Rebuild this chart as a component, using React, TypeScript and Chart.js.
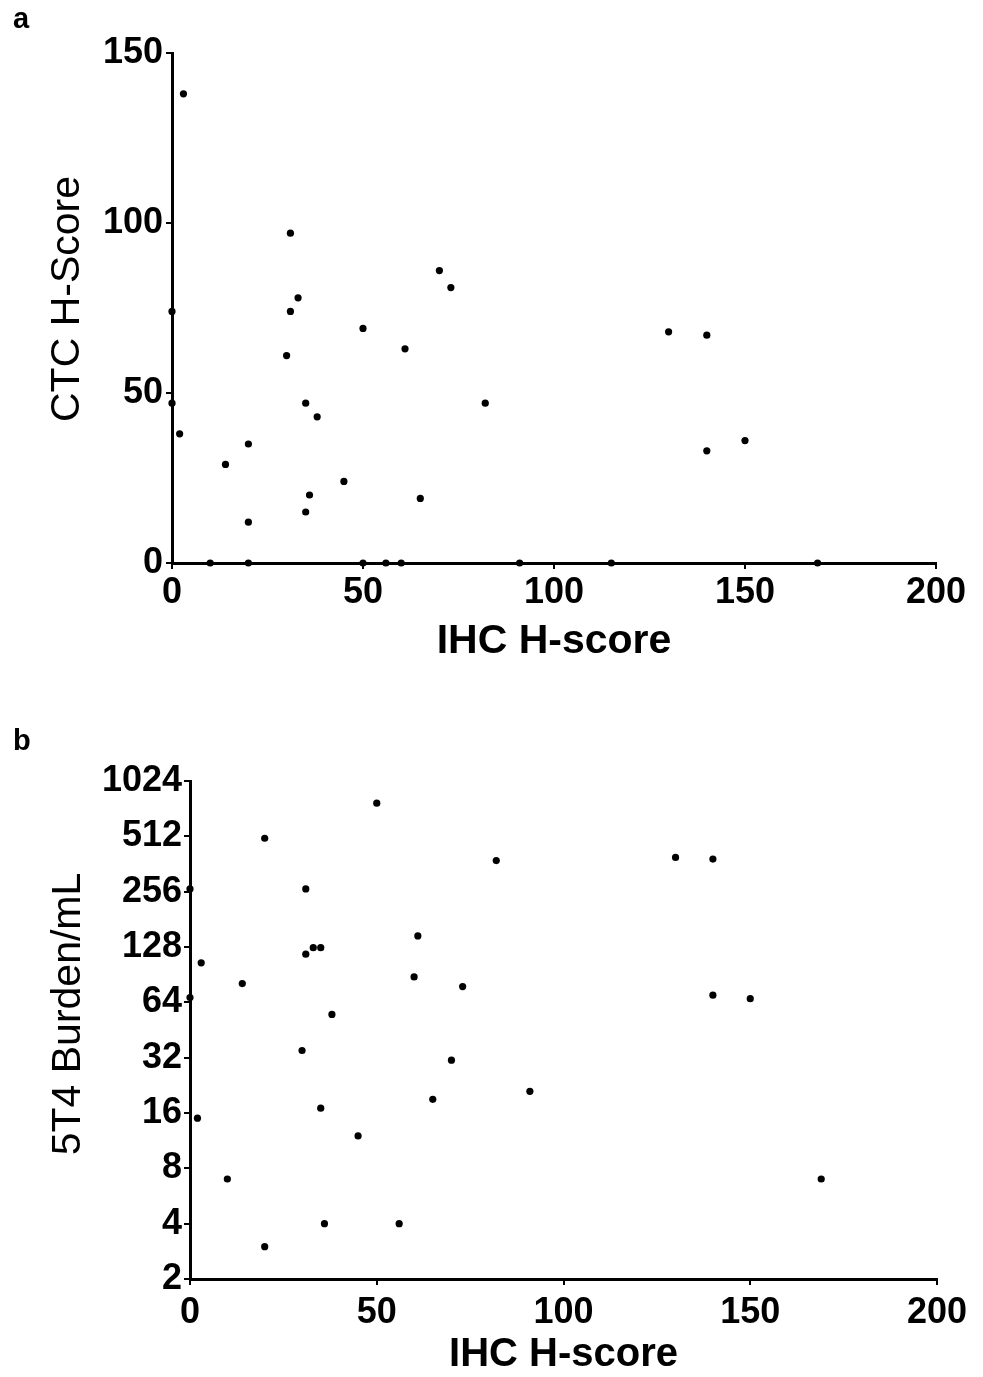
import React, { useEffect, useRef } from "react";
import { Chart, registerables } from "chart.js";

Chart.register(...registerables);

const FONT = '"Liberation Sans", Arial, Helvetica, sans-serif';

// Panel a: IHC H-score vs CTC H-Score
const xA = [3, 31, 70, 73, 33, 31, 0, 50, 30, 61, 0, 35, 38, 82, 2, 20, 14, 45, 36, 65, 35, 20, 130, 140, 140, 150, 10, 20, 50, 56, 60, 91, 115, 169];
const yA = [138, 97, 86, 81, 78, 74, 74, 69, 61, 63, 47, 47, 43, 47, 38, 35, 29, 24, 20, 19, 15, 12, 68, 67, 33, 36, 0, 0, 0, 0, 0, 0, 0, 0];

// Panel b: IHC H-score vs 5T4 Burden/mL
const xB = [50, 20, 82, 0, 31, 61, 33, 35, 31, 3, 60, 14, 73, 0, 38, 30, 70, 65, 35, 2, 45, 10, 36, 56, 20, 130, 140, 91, 140, 150, 169];
const yB = [776, 500, 378, 265, 265, 147, 127, 127, 117, 105, 88, 81, 78, 68, 55, 35, 31, 19, 17, 15, 12, 7, 4, 4, 3, 393, 385, 21, 70, 67, 7];

const xTicks = [0, 50, 100, 150, 200];
const yTicksA = [0, 50, 100, 150];
const yTicksB = [2, 4, 8, 16, 32, 64, 128, 256, 512, 1024];

const annotate = {
  id: "annotate",
  afterDraw(chart: any, _args: any, opts: any) {
    const ctx = chart.ctx;
    ctx.save();
    ctx.fillStyle = "#000";
    if (opts.panel) {
      ctx.font = `bold 29px ${FONT}`;
      ctx.textAlign = "left";
      ctx.textBaseline = "alphabetic";
      ctx.fillText(opts.panel.text, opts.panel.x, opts.panel.y);
    }
    if (opts.yTitle) {
      ctx.translate(opts.yTitle.x, opts.yTitle.y);
      ctx.rotate(-Math.PI / 2);
      ctx.font = `41px ${FONT}`;
      ctx.textAlign = "center";
      ctx.textBaseline = "middle";
      ctx.fillText(opts.yTitle.text, 0, 0);
    }
    ctx.restore();
  },
};

function makeConfig(p: any) {
  const tickFont = { family: FONT, size: 36, weight: "bold" as const };
  return {
    type: "scatter" as const,
    data: {
      datasets: [
        {
          data: p.xs.map((x: number, i: number) => ({ x, y: p.ys[i] })),
          backgroundColor: "#000",
          borderColor: "#000",
          borderWidth: 0,
          pointRadius: 3.6,
          pointHoverRadius: 3.6,
          clip: false as any,
        },
      ],
    },
    options: {
      animation: false as const,
      responsive: false,
      devicePixelRatio: 1,
      layout: { padding: p.padding },
      plugins: {
        legend: { display: false },
        tooltip: { enabled: false },
        annotate: { panel: p.panel, yTitle: p.yTitle },
      },
      scales: {
        x: {
          type: "linear" as const,
          min: 0,
          max: 200,
          afterBuildTicks: (s: any) => {
            s.ticks = xTicks.map((v) => ({ value: v }));
          },
          afterFit: (s: any) => {
            s.height = p.xHeight;
          },
          border: { display: true, color: "#000", width: 3 },
          grid: { display: true, drawOnChartArea: false, drawTicks: true, tickLength: 6, color: "#000", lineWidth: 2 },
          ticks: { color: "#000", font: tickFont, padding: p.xTickPad, maxRotation: 0, autoSkip: false, callback: (v: any) => String(v) },
          title: {
            display: true,
            text: "IHC H-score",
            color: "#000",
            font: { family: FONT, size: p.xTitleSize, weight: "bold" as const, lineHeight: 1 },
            padding: { top: 0, bottom: p.xTitlePad },
          },
        },
        y: p.yScale,
      },
    },
    plugins: [annotate],
  };
}

function ScatterPanel(props: { cfg: any; width: number; height: number; top: number }) {
  const ref = useRef<HTMLCanvasElement | null>(null);
  useEffect(() => {
    if (!ref.current) return;
    const chart = new Chart(ref.current, props.cfg);
    return () => chart.destroy();
  }, []);
  return (
    <canvas
      ref={ref}
      width={props.width}
      height={props.height}
      style={{ position: "absolute", left: 0, top: props.top, width: props.width, height: props.height, display: "block" }}
    />
  );
}

export default function App() {
  const tickFont = { family: FONT, size: 36, weight: "bold" as const };
  const cfgA = makeConfig({
    xs: xA,
    ys: yA,
    padding: { left: 0, top: 53, right: 47, bottom: 0 },
    xHeight: 127,
    xTickPad: 2,
    xTitleSize: 41,
    xTitlePad: 28,
    panel: { text: "a", x: 13, y: 28 },
    yTitle: { text: "CTC H-Score", x: 68, y: 299 },
    yScale: {
      type: "linear",
      min: 0,
      max: 150,
      afterBuildTicks: (s: any) => {
        s.ticks = yTicksA.map((v) => ({ value: v }));
      },
      afterFit: (s: any) => {
        s.width = 172;
      },
      border: { display: true, color: "#000", width: 3 },
      grid: { display: true, drawOnChartArea: false, drawTicks: true, tickLength: 6, color: "#000", lineWidth: 2 },
      ticks: { color: "#000", font: tickFont, padding: 3, autoSkip: false, callback: (v: any) => String(v) },
    },
  });
  const cfgB = makeConfig({
    xs: xB,
    ys: yB,
    padding: { left: 0, top: 91, right: 46, bottom: 0 },
    xHeight: 98,
    xTickPad: 6,
    xTitleSize: 40,
    xTitlePad: 2,
    panel: { text: "b", x: 13, y: 60 },
    yTitle: { text: "5T4 Burden/mL", x: 69, y: 324 },
    yScale: {
      type: "logarithmic",
      min: 2,
      max: 1024,
      afterBuildTicks: (s: any) => {
        s.ticks = yTicksB.map((v) => ({ value: v }));
      },
      afterFit: (s: any) => {
        s.width = 190;
      },
      border: { display: true, color: "#000", width: 3 },
      grid: { display: true, drawOnChartArea: false, drawTicks: true, tickLength: 6, color: "#000", lineWidth: 2 },
      ticks: { color: "#000", font: tickFont, padding: 2, autoSkip: false, callback: (v: any) => String(v) },
    },
  });
  return (
    <div style={{ position: "absolute", left: 0, top: 0, width: 983, height: 1377, background: "#fff" }}>
      <ScatterPanel cfg={cfgA} width={983} height={690} top={0} />
      <ScatterPanel cfg={cfgB} width={983} height={687} top={690} />
    </div>
  );
}
